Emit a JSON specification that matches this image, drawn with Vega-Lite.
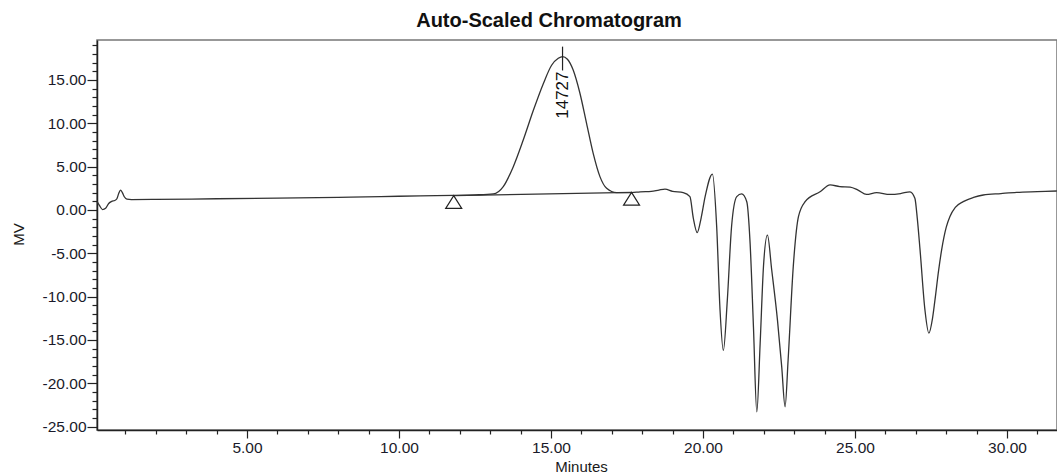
{
  "$schema": "https://vega.github.io/schema/vega-lite/v6.json",
  "width": 960,
  "height": 390,
  "autosize": {"type": "none"},
  "padding": {"left": 97, "top": 40, "right": 0, "bottom": 45},
  "background": "white",
  "title": {"text": "Auto-Scaled Chromatogram", "font": "Liberation Sans", "fontSize": 20, "fontWeight": "bold", "color": "#111", "anchor": "middle", "frame": "group", "dx": -28, "offset": 9},
  "config": {
    "view": {"stroke": "#777", "strokeWidth": 1.5},
    "axis": {"grid": false, "labelFont": "Liberation Sans", "titleFont": "Liberation Sans", "labelColor": "#1a1a2a", "titleColor": "#1a1a1a", "tickColor": "#222", "domainColor": "#222", "domainWidth": 1.5, "tickWidth": 1.2}
  },
  "datasets": {
    "trace": [
      {"t": 0.07, "mv": 0.96}, {"t": 0.15, "mv": 0.5}, {"t": 0.25, "mv": 0.05}, {"t": 0.35, "mv": 0.2}, {"t": 0.45, "mv": 0.75},
      {"t": 0.55, "mv": 1.0}, {"t": 0.65, "mv": 1.1}, {"t": 0.72, "mv": 1.3}, {"t": 0.78, "mv": 1.9}, {"t": 0.84, "mv": 2.3},
      {"t": 0.9, "mv": 2.0}, {"t": 0.97, "mv": 1.5}, {"t": 1.05, "mv": 1.25}, {"t": 1.2, "mv": 1.2}, {"t": 2, "mv": 1.22},
      {"t": 4, "mv": 1.3}, {"t": 6, "mv": 1.38}, {"t": 8, "mv": 1.46}, {"t": 9.4, "mv": 1.54}, {"t": 10.7, "mv": 1.64},
      {"t": 11.8, "mv": 1.68}, {"t": 12.5, "mv": 1.74}, {"t": 13.1, "mv": 1.85}, {"t": 13.43, "mv": 2.7}, {"t": 13.76, "mv": 5.0},
      {"t": 14.09, "mv": 8.1}, {"t": 14.42, "mv": 11.5}, {"t": 14.75, "mv": 14.6}, {"t": 15.02, "mv": 16.7}, {"t": 15.24, "mv": 17.5},
      {"t": 15.38, "mv": 17.7}, {"t": 15.54, "mv": 17.4}, {"t": 15.73, "mv": 16.15}, {"t": 15.95, "mv": 13.5}, {"t": 16.17, "mv": 10.0},
      {"t": 16.39, "mv": 6.5}, {"t": 16.61, "mv": 3.85}, {"t": 16.83, "mv": 2.5}, {"t": 17.16, "mv": 2.0}, {"t": 17.65, "mv": 2.0},
      {"t": 17.93, "mv": 2.1}, {"t": 18.3, "mv": 2.15}, {"t": 18.55, "mv": 2.3}, {"t": 18.75, "mv": 2.4}, {"t": 19.0, "mv": 2.15},
      {"t": 19.35, "mv": 2.0}, {"t": 19.57, "mv": 1.54}, {"t": 19.68, "mv": -0.9}, {"t": 19.81, "mv": -2.6}, {"t": 19.94, "mv": -0.9},
      {"t": 20.07, "mv": 1.54}, {"t": 20.31, "mv": 4.15}, {"t": 20.45, "mv": -1.9}, {"t": 20.56, "mv": -11.5}, {"t": 20.67, "mv": -16.2},
      {"t": 20.8, "mv": -10.4}, {"t": 20.94, "mv": -1.9}, {"t": 21.11, "mv": 1.54}, {"t": 21.27, "mv": 1.85}, {"t": 21.44, "mv": 0.96},
      {"t": 21.55, "mv": -3.85}, {"t": 21.66, "mv": -13.5}, {"t": 21.77, "mv": -23.3}, {"t": 21.88, "mv": -15.4}, {"t": 21.99, "mv": -6.5},
      {"t": 22.12, "mv": -2.9}, {"t": 22.26, "mv": -6.9}, {"t": 22.45, "mv": -12.7}, {"t": 22.59, "mv": -18.1}, {"t": 22.7, "mv": -22.7},
      {"t": 22.8, "mv": -17.3}, {"t": 22.97, "mv": -6.5}, {"t": 23.14, "mv": -0.77}, {"t": 23.36, "mv": 0.96}, {"t": 23.85, "mv": 2.1},
      {"t": 24.18, "mv": 2.9}, {"t": 24.5, "mv": 2.7}, {"t": 24.84, "mv": 2.65}, {"t": 25.1, "mv": 2.3}, {"t": 25.38, "mv": 1.8},
      {"t": 25.71, "mv": 2.0}, {"t": 26.15, "mv": 1.8}, {"t": 26.5, "mv": 1.9}, {"t": 26.81, "mv": 2.1}, {"t": 26.97, "mv": 1.35},
      {"t": 27.05, "mv": -1.0}, {"t": 27.14, "mv": -4.6}, {"t": 27.3, "mv": -11.5}, {"t": 27.43, "mv": -14.2}, {"t": 27.55, "mv": -12.5},
      {"t": 27.63, "mv": -10.4}, {"t": 27.75, "mv": -7.0}, {"t": 27.85, "mv": -4.6}, {"t": 28.0, "mv": -2.0}, {"t": 28.12, "mv": -0.77},
      {"t": 28.3, "mv": 0.3}, {"t": 28.56, "mv": 0.96}, {"t": 28.9, "mv": 1.45}, {"t": 29.22, "mv": 1.73}, {"t": 29.8, "mv": 1.9},
      {"t": 30.32, "mv": 2.04}, {"t": 31.0, "mv": 2.12}, {"t": 31.64, "mv": 2.19}
    ],
    "base": [{"t": 11.8, "mv": 1.66}, {"t": 17.65, "mv": 2.04}],
    "apex": [{"t": 15.38, "lo": 16.1, "hi": 18.85, "label": "14727"}]
  },
  "layer": [
    {
      "data": {"name": "trace"},
      "mark": {"type": "line", "interpolate": "monotone", "color": "#333", "strokeWidth": 1.3},
      "encoding": {
        "x": {"field": "t", "type": "quantitative", "scale": {"domain": [0.066, 31.645], "nice": false, "zero": false},
          "axis": {"orient": "bottom", "values": [5, 10, 15, 20, 25, 30], "format": ".2f", "tickSize": 8, "labelFontSize": 15.5, "labelPadding": 2, "title": "Minutes", "titleFontSize": 15, "titleFontWeight": "normal", "titleX": 484, "titleY": 36, "titleBaseline": "middle", "titleAlign": "center"}},
        "y": {"field": "mv", "type": "quantitative", "scale": {"domain": [-25.385, 19.615], "nice": false, "zero": false},
          "axis": {"orient": "left", "values": [-25, -20, -15, -10, -5, 0, 5, 10, 15], "labelExpr": "replace(format(datum.value, '.2f'), '\u2212', '-')", "tickSize": 10, "labelFontSize": 15.5, "labelPadding": 1, "title": "MV", "titleFontSize": 15, "titleFontWeight": "normal", "titleAngle": 270, "titleX": -79, "titleY": 194, "titleBaseline": "middle", "titleAlign": "center"}}
      }
    },
    {
      "data": {"name": "base"},
      "mark": {"type": "line", "color": "#333", "strokeWidth": 1.2},
      "encoding": {
        "x": {"field": "t", "type": "quantitative",
          "axis": {"orient": "bottom", "values": [1,2,3,4,6,7,8,9,11,12,13,14,16,17,18,19,21,22,23,24,26,27,28,29,31], "labels": false, "domain": false, "tickSize": 4, "title": null}},
        "y": {"field": "mv", "type": "quantitative",
          "axis": {"orient": "left", "values": [-24,-23,-22,-21,-19,-18,-17,-16,-14,-13,-12,-11,-9,-8,-7,-6,-4,-3,-2,-1,1,2,3,4,6,7,8,9,11,12,13,14,16,17,18,19], "labels": false, "domain": false, "tickSize": 5, "title": null}}
      }
    },
    {
      "data": {"name": "base"},
      "mark": {"type": "point", "shape": "M0,0L1,1.6L-1,1.6Z", "size": 256, "filled": true, "fill": "white", "stroke": "#222", "strokeWidth": 1.2, "opacity": 1},
      "encoding": {
        "x": {"field": "t", "type": "quantitative", "axis": null},
        "y": {"field": "mv", "type": "quantitative", "axis": null}
      }
    },
    {
      "data": {"name": "apex"},
      "mark": {"type": "rule", "color": "#222", "strokeWidth": 1.2},
      "encoding": {
        "x": {"field": "t", "type": "quantitative", "axis": null},
        "y": {"field": "lo", "type": "quantitative", "axis": null},
        "y2": {"field": "hi"}
      }
    },
    {
      "data": {"name": "apex"},
      "mark": {"type": "text", "angle": 270, "align": "right", "baseline": "middle", "dx": -1, "font": "Liberation Sans", "fontSize": 17, "color": "#111"},
      "encoding": {
        "x": {"field": "t", "type": "quantitative", "axis": null},
        "y": {"field": "lo", "type": "quantitative", "axis": null},
        "text": {"field": "label"}
      }
    }
  ],
  "resolve": {"axis": {"x": "independent", "y": "independent"}}
}
